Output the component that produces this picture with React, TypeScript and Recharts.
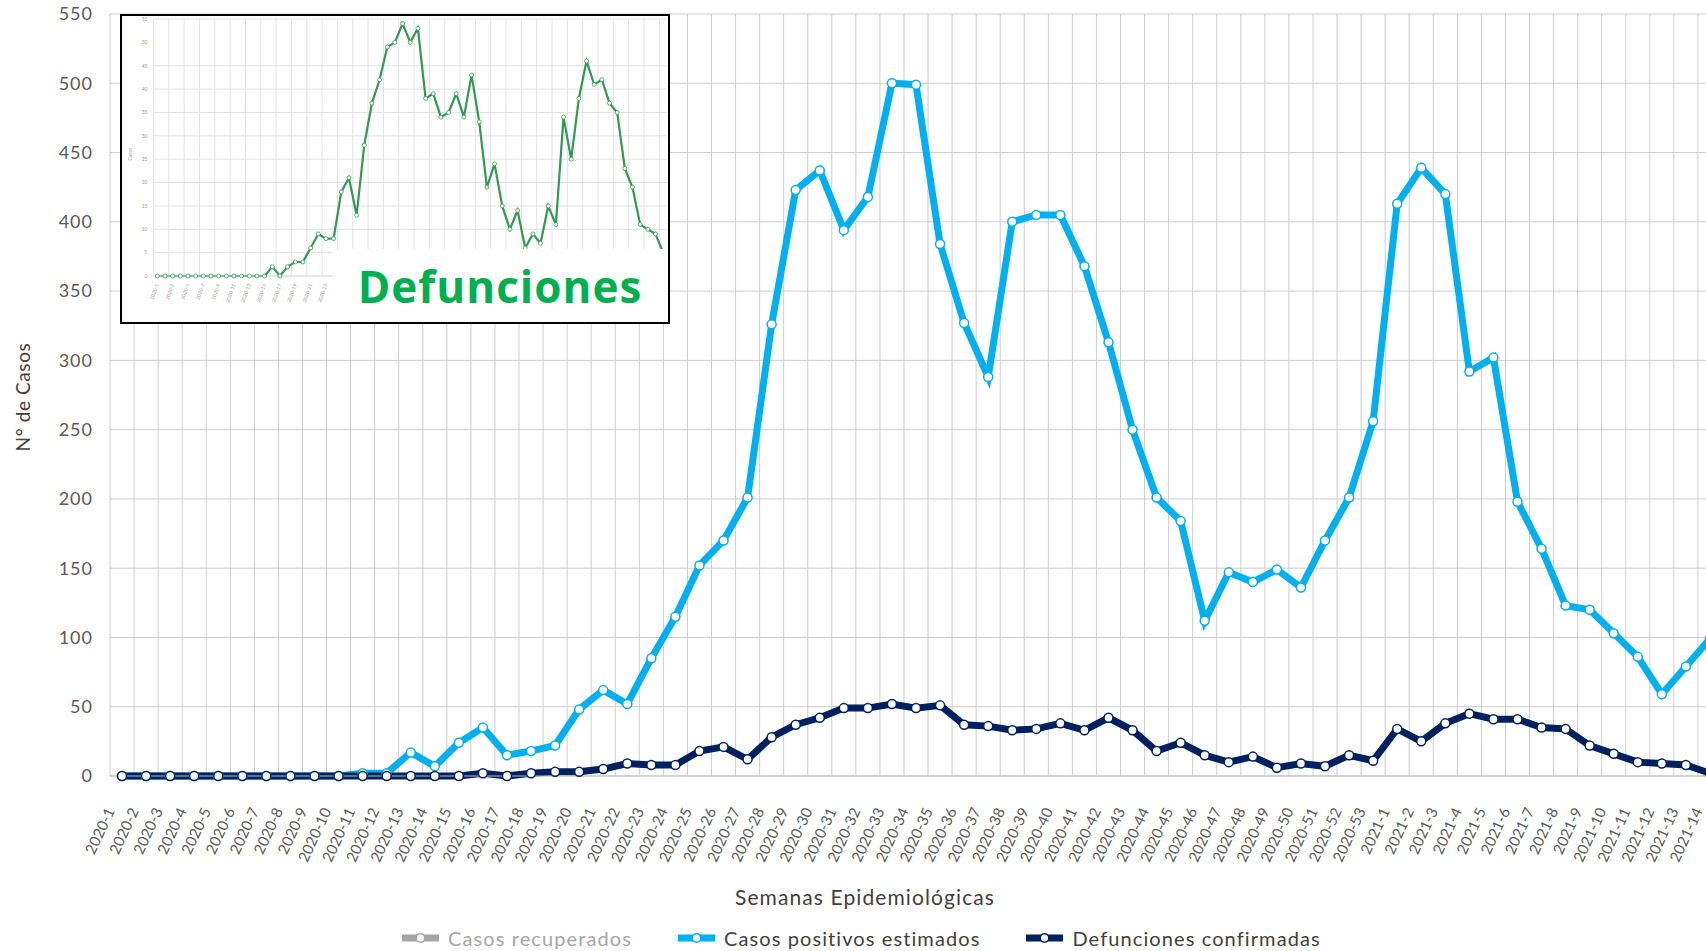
import { LineChart, Line, XAxis, YAxis, CartesianGrid } from 'recharts'

// Semanas epidemiológicas 2020-1 .. 2021-14
const semanas = [
  '2020-1', '2020-2', '2020-3', '2020-4', '2020-5', '2020-6', '2020-7', '2020-8', '2020-9', '2020-10',
  '2020-11', '2020-12', '2020-13', '2020-14', '2020-15', '2020-16', '2020-17', '2020-18', '2020-19', '2020-20',
  '2020-21', '2020-22', '2020-23', '2020-24', '2020-25', '2020-26', '2020-27', '2020-28', '2020-29', '2020-30',
  '2020-31', '2020-32', '2020-33', '2020-34', '2020-35', '2020-36', '2020-37', '2020-38', '2020-39', '2020-40',
  '2020-41', '2020-42', '2020-43', '2020-44', '2020-45', '2020-46', '2020-47', '2020-48', '2020-49', '2020-50',
  '2020-51', '2020-52', '2020-53', '2021-1', '2021-2', '2021-3', '2021-4', '2021-5', '2021-6', '2021-7',
  '2021-8', '2021-9', '2021-10', '2021-11', '2021-12', '2021-13', '2021-14',
]

const casosPositivos = [
  0, 0, 0, 0, 0, 0, 0, 0, 0, 0,
  2, 2, 17, 7, 24, 35, 15, 18, 22, 48,
  62, 52, 85, 115, 152, 170, 201, 326, 423, 437,
  394, 418, 500, 499, 384, 327, 288, 400, 405, 405,
  368, 313, 250, 201, 184, 112, 147, 140, 149, 136,
  170, 201, 256, 413, 439, 420, 292, 302, 198, 164,
  123, 120, 103, 86, 59, 79, 99,
]

const defuncionesConfirmadas = [
  0, 0, 0, 0, 0, 0, 0, 0, 0, 0,
  0, 0, 0, 0, 0, 2, 0, 2, 3, 3,
  5, 9, 8, 8, 18, 21, 12, 28, 37, 42,
  49, 49, 52, 49, 51, 37, 36, 33, 34, 38,
  33, 42, 33, 18, 24, 15, 10, 14, 6, 9,
  7, 15, 11, 34, 25, 38, 45, 41, 41, 35,
  34, 22, 16, 10, 9, 8, 2,
]

// small "Defunciones" thumbnail in the top-left corner
const defuncionesRecorte = [
  0, 0, 0, 0, 0, 0, 0, 0, 0, 0,
  0, 0, 0, 0, 0, 2, 0, 2, 3, 3,
  6, 9, 8, 8, 18, 21, 13, 28, 37, 42,
  49, 50, 54, 50, 53, 38, 39, 34, 35, 39,
  34, 43, 33, 19, 24, 15, 10, 14, 6, 9,
  7, 15, 11, 34, 25, 38, 46, 41, 42, 37,
  35, 23, 19, 11, 10, 9, 5,
]

const yTicks = [0, 50, 100, 150, 200, 250, 300, 350, 400, 450, 500, 550]
const yTicksRecorte = [0, 5, 10, 15, 20, 25, 30, 35, 40, 45, 50, 55]

const leyenda = [
  { name: 'Casos recuperados', color: '#a5a5a5', text: '#a6a6a6' },
  { name: 'Casos positivos estimados', color: '#00b0f0', text: '#404040' },
  { name: 'Defunciones confirmadas', color: '#002060', text: '#404040' },
]

const rows = semanas.map((semana, i) => ({
  semana,
  positivos: casosPositivos[i],
  defunciones: defuncionesConfirmadas[i],
  recorte: defuncionesRecorte[i],
}))

const FONT = 'Lato, "Open Sans", sans-serif'

// gridlines sit on the category edges, like Excel's "between tick marks"
const bandEdges = (step: number) => ({ offset }: any) => {
  const n = semanas.length
  const out: number[] = []
  for (let i = 0; i <= n; i += step) out.push(offset.left + (i * offset.width) / n)
  return out
}

const WeekTick = ({ x, y, payload }: any) => (
  <text
    x={x - 11}
    y={y + 31}
    transform={`rotate(-65 ${x - 11} ${y + 31})`}
    textAnchor="end"
    dy="0.3em"
    fill="#595959"
    fontSize={15}
    fontFamily={FONT}
  >
    {payload.value}
  </text>
)

const MiniTick = ({ x, y, payload }: any) => (
  <text
    x={x}
    y={y + 6}
    transform={`rotate(-70 ${x} ${y + 6})`}
    textAnchor="end"
    dy="0.35em"
    fill="#9a9a9a"
    fontSize={5}
    fontFamily={FONT}
  >
    {payload.value}
  </text>
)

const LegendIcon = ({ color }: { color: string }) => (
  <svg width={37} height={12} style={{ display: 'block' }}>
    <line x1={0} y1={6} x2={37} y2={6} stroke={color} strokeWidth={7} />
    <circle cx={18.5} cy={6} r={4.3} fill="#fff" stroke={color} strokeWidth={1.5} />
  </svg>
)

export default function App() {
  return (
    <div
      style={{
        position: 'absolute',
        left: 0,
        top: 0,
        width: 1706,
        height: 951,
        overflow: 'hidden',
        background: '#fff',
        fontFamily: FONT,
      }}
    >
      <LineChart width={1730} height={951} data={rows} margin={{ top: 14, right: 8, bottom: 75, left: 10 }}>
        <CartesianGrid stroke="#cccccc" verticalCoordinatesGenerator={bandEdges(1)} />
        <XAxis
          dataKey="semana"
          scale="band"
          interval={0}
          height={100}
          tickLine={false}
          tickSize={0}
          axisLine={{ stroke: '#bfbfbf' }}
          tick={<WeekTick />}
        />
        <YAxis
          domain={[0, 550]}
          ticks={yTicks}
          width={100}
          axisLine={false}
          tickLine={false}
          tickSize={0}
          tickMargin={17}
          tick={{ fill: '#595959', fontSize: 18, fontFamily: FONT, letterSpacing: 1 }}
        />
        <Line
          dataKey="positivos"
          stroke="#00b0f0"
          strokeWidth={7}
          dot={{ r: 4.5, fill: '#fff', stroke: '#00b0f0', strokeWidth: 1.5 }}
          isAnimationActive={false}
        />
        <Line
          dataKey="defunciones"
          stroke="#002060"
          strokeWidth={7}
          dot={{ r: 4.5, fill: '#fff', stroke: '#002060', strokeWidth: 1.5 }}
          isAnimationActive={false}
        />
      </LineChart>

      {/* inset thumbnail */}
      <div
        style={{
          position: 'absolute',
          left: 120,
          top: 14,
          width: 550,
          height: 310,
          border: '2px solid #000',
          boxSizing: 'border-box',
          background: '#fff',
          overflow: 'hidden',
        }}
      >
        <LineChart width={546} height={306} data={rows} margin={{ top: 3, right: 1, bottom: 0, left: 6 }}>
          <CartesianGrid stroke="#e2e2e2" verticalCoordinatesGenerator={bandEdges(2)} />
          <XAxis
            dataKey="semana"
            scale="band"
            interval={1}
            height={46}
            tickLine={false}
            tickSize={0}
            axisLine={{ stroke: '#d9d9d9' }}
            tick={<MiniTick />}
          />
          <YAxis
            domain={[0, 55]}
            ticks={yTicksRecorte}
            width={25.5}
            axisLine={false}
            tickLine={false}
            tickSize={0}
            tickMargin={6}
            tick={{ fill: '#9a9a9a', fontSize: 5, fontFamily: FONT }}
          />
          <Line
            dataKey="recorte"
            stroke="#2e9a52"
            strokeWidth={2.2}
            dot={{ r: 2, fill: '#fff', stroke: '#2e9a52', strokeWidth: 0.8 }}
            isAnimationActive={false}
          />
        </LineChart>
        <div
          style={{
            position: 'absolute',
            left: 8,
            top: 138,
            transform: 'translate(-50%, -50%) rotate(-90deg)',
            fontSize: 5,
            color: '#9a9a9a',
          }}
        >
          Casos
        </div>
        <div
          style={{
            position: 'absolute',
            left: 210,
            top: 233,
            right: 0,
            bottom: 0,
            background: '#fff',
            display: 'flex',
            alignItems: 'center',
            justifyContent: 'center',
            fontFamily: '"Open Sans", sans-serif',
            fontWeight: 700,
            fontSize: 44,
            letterSpacing: 1,
            color: '#00b050',
          }}
        >
          Defunciones
        </div>
      </div>

      {/* axis titles */}
      <div
        style={{
          position: 'absolute',
          left: 22,
          top: 397,
          transform: 'translate(-50%, -50%) rotate(-90deg)',
          whiteSpace: 'nowrap',
          fontSize: 19,
          letterSpacing: 0.6,
          color: '#404040',
        }}
      >
        N° de Casos
      </div>
      <div
        style={{
          position: 'absolute',
          left: 0,
          width: 1730,
          top: 884,
          textAlign: 'center',
          fontSize: 21,
          letterSpacing: 1.1,
          color: '#404040',
        }}
      >
        Semanas Epidemiológicas
      </div>

      {/* legend */}
      <div
        style={{
          position: 'absolute',
          left: 402,
          top: 926,
          display: 'flex',
          alignItems: 'center',
          gap: 46,
          fontSize: 20,
          letterSpacing: 1.1,
        }}
      >
        {leyenda.map((item) => (
          <div key={item.name} style={{ display: 'flex', alignItems: 'center', gap: 9, color: item.text }}>
            <LegendIcon color={item.color} />
            <span>{item.name}</span>
          </div>
        ))}
      </div>
    </div>
  )
}
